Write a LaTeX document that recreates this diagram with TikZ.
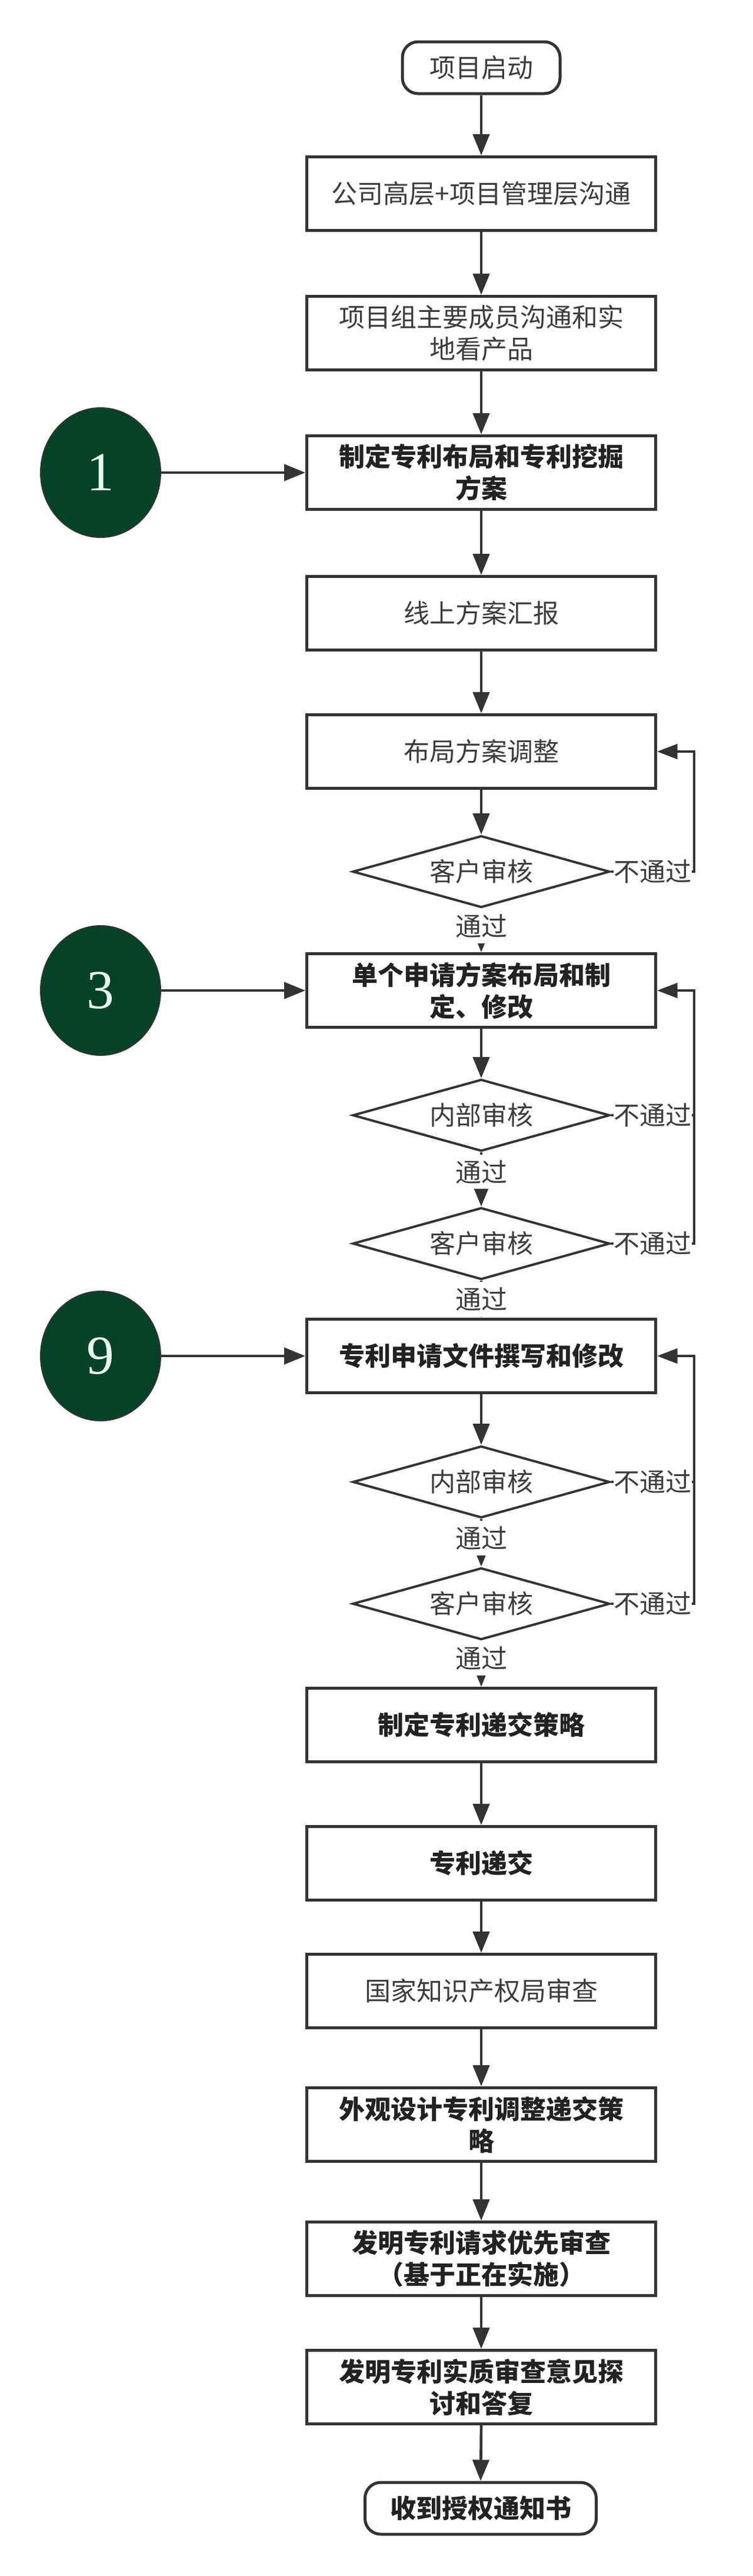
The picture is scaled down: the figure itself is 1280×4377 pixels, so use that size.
\documentclass[tikz,border=0pt]{standalone}
\usepackage{fontspec}
\setmainfont{Noto Sans CJK SC}
\newfontfamily\numfont{Liberation Serif}
\usetikzlibrary{shapes.geometric,arrows.meta}
\definecolor{ln}{RGB}{51,51,51}
\definecolor{cg}{RGB}{4,67,40}
\definecolor{cw}{RGB}{232,246,238}
\definecolor{txt}{RGB}{60,60,60}
\definecolor{btxt}{RGB}{34,34,34}
\begin{document}
\begin{tikzpicture}[x=0.75pt,y=-0.75pt,
  every node/.style={font=\fontsize{33pt}{40.5pt}\selectfont, text=txt},
  proc/.style={rectangle, draw=ln, line width=3.75pt, fill=white, minimum width=444.75pt, minimum height=93.75pt, align=center, inner sep=0pt},
  bproc/.style={proc, font=\fontsize{33pt}{40.5pt}\selectfont\bfseries, text=btxt},
  term/.style={rectangle, draw=ln, line width=3.75pt, fill=white, rounded corners=20pt, minimum height=66pt, inner sep=0pt},
  dec/.style={diamond, draw=ln, line width=3pt, fill=white, minimum width=327.75pt, minimum height=91.5pt, inner sep=0pt, aspect=3.5},
  circ/.style={ellipse, draw=ln, line width=1.5pt, fill=cg, minimum width=153pt, minimum height=165pt, inner sep=0pt, text=cw, font=\numfont\fontsize{70pt}{70pt}\selectfont},
  arr/.style={draw=ln, line width=3.5pt, -{Triangle[length=27pt,width=21pt]}},
  back/.style={draw=ln, line width=3pt, -{Triangle[length=26pt,width=19pt]}},
  plain/.style={draw=ln, line width=3pt},
  lbl/.style={fill=white, inner xsep=0.5pt, inner ysep=7pt},
]
\path[use as bounding box, fill=white] (0,0) rectangle (1280,4377);

% flow nodes
\node[term, minimum width=201pt] (start) at (818,115) {项目启动};
\node[proc] (b1) at (818,329) {公司高层+项目管理层沟通};
\node[proc] (b2) at (818,566) {项目组主要成员沟通和实\\地看产品};
\node[bproc] (b3) at (818,803) {制定专利布局和专利挖掘\\方案};
\node[proc] (b4) at (818,1042) {线上方案汇报};
\node[proc] (b5) at (818,1277) {布局方案调整};
\node[dec] (d1) at (818,1481) {客户审核};
\node[bproc] (b6) at (818,1683) {单个申请方案布局和制\\定、修改};
\node[dec] (d2) at (818,1895) {内部审核};
\node[dec] (d3) at (818,2113) {客户审核};
\node[bproc] (b7) at (818,2304) {专利申请文件撰写和修改};
\node[dec] (d4) at (818,2518) {内部审核};
\node[dec] (d5) at (818,2725) {客户审核};
\node[bproc] (b8) at (818,2931) {制定专利递交策略};
\node[bproc] (b9) at (818,3166) {专利递交};
\node[proc] (b10) at (818,3383) {国家知识产权局审查};
\node[bproc] (b11) at (818,3610) {外观设计专利调整递交策\\略};
\node[bproc] (b12) at (818,3838) {发明专利请求优先审查\\（基于正在实施）};
\node[bproc] (b13) at (818,4056) {发明专利实质审查意见探\\讨和答复};
\node[term, minimum width=294.75pt, font=\fontsize{33pt}{40.5pt}\selectfont\bfseries, text=btxt] (end) at (817,4262) {收到授权通知书};

% circles
\node[circ] (c1) at (171,803) {1};
\node[circ] (c3) at (171,1683) {3};
\node[circ] (c9) at (171,2304) {9};

\coordinate (rx) at (1180,0);

% main connectors
\draw[arr] (start.south) -- (b1.north);
\draw[arr] (b1.south) -- (b2.north);
\draw[arr] (b2.south) -- (b3.north);
\draw[arr] (b3.south) -- (b4.north);
\draw[arr] (b4.south) -- (b5.north);
\draw[arr] (b5.south) -- (d1.north);
\draw[arr] (d1.south) -- node[lbl, pos=0.4] {通过} (b6.north);
\draw[arr] (b6.south) -- (d2.north);
\draw[arr] (d2.south) -- node[lbl, pos=0.36] {通过} (d3.north);
\draw[arr] (d3.south) -- node[lbl, pos=0.5] {通过} (b7.north);
\draw[arr] (b7.south) -- (d4.north);
\draw[arr] (d4.south) -- node[lbl, pos=0.4] {通过} (d5.north);
\draw[arr] (d5.south) -- node[lbl, pos=0.38] {通过} (b8.north);
\draw[arr] (b8.south) -- (b9.north);
\draw[arr] (b9.south) -- (b10.north);
\draw[arr] (b10.south) -- (b11.north);
\draw[arr] (b11.south) -- (b12.north);
\draw[arr] (b12.south) -- (b13.north);
\draw[arr] (b13.south) -- (end.north);

% circle connectors
\draw[arr] (c1.east) -- (b3.west);
\draw[arr] (c3.east) -- (b6.west);
\draw[arr] (c9.east) -- (b7.west);

% feedback loops
\draw[back] (d1.east) -- node[lbl] {不通过} (d1.east -| rx) |- (b5.east);
\draw[back] (d3.east) -- node[lbl] {不通过} (d3.east -| rx) |- (b6.east);
\draw[plain] (d2.east) -- node[lbl] {不通过} (d2.east -| rx);
\draw[back] (d5.east) -- node[lbl] {不通过} (d5.east -| rx) |- (b7.east);
\draw[plain] (d4.east) -- node[lbl] {不通过} (d4.east -| rx);
\end{tikzpicture}
\end{document}
